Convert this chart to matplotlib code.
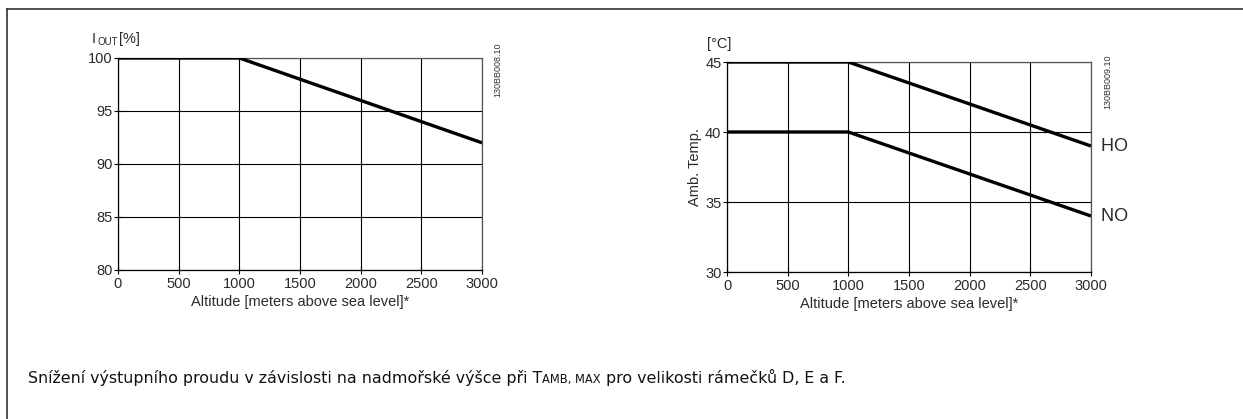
import matplotlib
matplotlib.use("Agg")
import matplotlib.pyplot as plt
from matplotlib.lines import Line2D

plt.rcParams['font.family'] = ['Liberation Sans', 'DejaVu Sans']

# data
altitude = [0, 1000, 3000]
i_out = [100, 100, 92]
temp_ho = [45, 45, 39]
temp_no = [40, 40, 34]
x_ticks = [0, 500, 1000, 1500, 2000, 2500, 3000]
y_ticks_left = [80, 85, 90, 95, 100]
y_ticks_right = [30, 35, 40, 45]

W, H = 1243, 419
fig = plt.figure(figsize=(W / 100, H / 100), dpi=100)
TXT = '#2a2a2a'


def px(x, y):
    return x / W, 1 - y / H


def style_axes(ax, yticks):
    ax.set_xlim(0, 3000)
    ax.set_ylim(yticks[0], yticks[-1])
    ax.set_xticks(x_ticks)
    ax.set_yticks(yticks)
    ax.grid(True, color='black', linewidth=0.8)
    for s in ax.spines.values():
        s.set_color('#555555')
        s.set_linewidth(0.9)
    ax.spines['left'].set_color('black')
    ax.spines['bottom'].set_color('black')
    ax.tick_params(direction='inout', length=6, width=0.8, labelsize=10.5,
                   colors='black', labelcolor=TXT, pad=1)
    ax.tick_params(axis='x', pad=2)
    ax.set_axisbelow(True)


# left chart
ax1 = fig.add_axes([118 / W, 1 - 270 / H, 364 / W, 212 / H])
style_axes(ax1, y_ticks_left)
ax1.plot(altitude, i_out, color='black', linewidth=2.4, solid_capstyle='butt', zorder=3)
ax1.set_xlabel('Altitude [meters above sea level]*', fontsize=10.5, color=TXT, labelpad=3)
fig.text(*px(92, 43), 'I', fontsize=10.5, color=TXT)
fig.text(*px(97, 45), 'OUT', fontsize=7, color=TXT)
fig.text(*px(119, 43), '[%]', fontsize=10.5, color=TXT)
fig.text(*px(493, 95), '130BB008.10', fontsize=6.5, rotation=90, color='#333333')

# right chart
ax2 = fig.add_axes([727 / W, 1 - 272 / H, 364 / W, 210 / H])
style_axes(ax2, y_ticks_right)
ax2.plot(altitude, temp_ho, color='black', linewidth=2.4, solid_capstyle='butt', zorder=3)
ax2.plot(altitude, temp_no, color='black', linewidth=2.4, solid_capstyle='butt', zorder=3)
ax2.set_xlabel('Altitude [meters above sea level]*', fontsize=10.5, color=TXT, labelpad=3)
ax2.set_ylabel('Amb. Temp.', fontsize=10.5, color=TXT, labelpad=2)
ax2.text(3000, temp_ho[-1], '  HO', fontsize=13, va='center', ha='left', color=TXT)
ax2.text(3000, temp_no[-1], '  NO', fontsize=13, va='center', ha='left', color=TXT)
fig.text(*px(707, 48), '[°C]', fontsize=10.5, color=TXT)
fig.text(*px(1103, 107), '130BB009.10', fontsize=6.5, rotation=90, color='#333333')

# frame lines
fig.add_artist(Line2D([7 / W, 7 / W], [0, 1 - 9 / H], transform=fig.transFigure,
                      color='#333333', linewidth=1.2))
fig.add_artist(Line2D([7 / W, 1], [1 - 9 / H, 1 - 9 / H], transform=fig.transFigure,
                      color='#333333', linewidth=1.2))

# caption
cap_font = ['DejaVu Sans']
y_cap = 1 - 383 / H
t1 = fig.text(28 / W, y_cap, 'Snížení výstupního proudu v závislosti na nadmořské výšce při T',
              fontsize=11.4, family=cap_font, color='#111111')
fig.canvas.draw()
r = fig.canvas.get_renderer()
x = t1.get_window_extent(r).x1
t2 = fig.text(x / W, y_cap, 'AMB, MAX', fontsize=8.3, family=cap_font, color='#111111')
x = t2.get_window_extent(r).x1
fig.text(x / W, y_cap, ' pro velikosti rámečků D, E a F.',
         fontsize=11.4, family=cap_font, color='#111111')

fig.savefig('out.png', dpi=100)
